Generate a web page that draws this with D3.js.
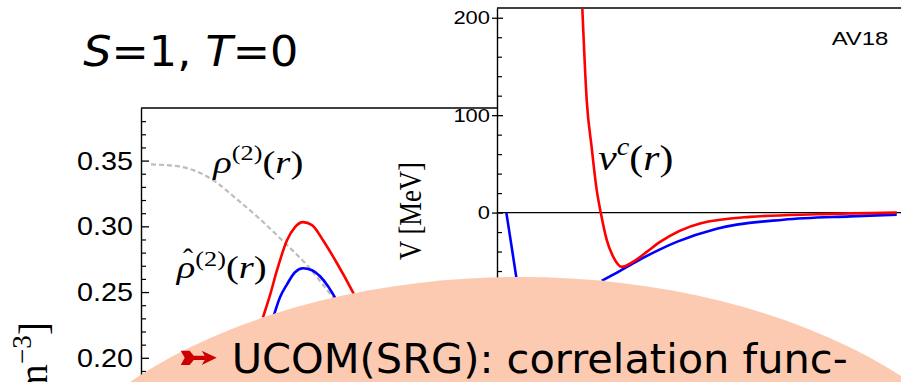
<!DOCTYPE html>
<html><head><meta charset="utf-8">
<script src="https://cdn.jsdelivr.net/npm/d3@7"></script>
<style>html,body{margin:0;padding:0;background:#fff;overflow:hidden}</style>
</head><body><svg id="c" width="901" height="382"></svg>
<script>
// ---- left panel: two-body densities (fm^-3) vs r (fm)
const rGray   = [0.0, 0.145, 0.31, 0.435, 0.545, 0.66, 0.78, 0.91, 1.045];
const rhoGray = [0.3471, 0.3454, 0.3352, 0.3199, 0.3055, 0.2887, 0.2704, 0.2460, 0.2210];
const rRed    = [0.56, 0.595, 0.63, 0.68, 0.72, 0.76, 0.805, 0.86, 0.93, 1.01, 1.085];
const rhoRed  = [0.2308, 0.2476, 0.2666, 0.2894, 0.2994, 0.3032, 0.3009, 0.2894, 0.2719, 0.2498, 0.2270];
const rBlue   = [0.61, 0.645, 0.68, 0.72, 0.76, 0.805, 0.845, 0.885, 0.925, 0.97];
const rhoBlue = [0.2300, 0.2460, 0.2559, 0.2651, 0.2681, 0.2666, 0.2620, 0.2544, 0.2445, 0.2324];
const rhoMajorTicks = [0.20, 0.25, 0.30, 0.35];
const rhoMinorTicks = [0.19, 0.21, 0.22, 0.23, 0.24, 0.26, 0.27, 0.28, 0.29, 0.31, 0.32, 0.33, 0.34, 0.36, 0.37, 0.38];

// ---- right panel: potentials (MeV) vs r (fm)
const rPotRed  = [0.64, 0.673, 0.71, 0.748, 0.778, 0.823, 0.872, 0.935, 1.02, 1.123, 1.223, 1.523, 1.898, 2.398, 2.998];
const vPotRed  = [209.5, 115, 67, 23, 0, -28, -45.5, -55.7, -50.6, -40.3, -30.1, -11.1, -4.4, -1.7, 0];
const rPotBlue = [0.07, 0.11, 0.145, null, 0.785, 0.923, 1.048, 1.223, 1.348, 1.648, 2.148, 2.648, 2.998];
const vPotBlue = [0, -35.3, -66.6, null, -70, -59.8, -50, -37.7, -30.1, -16.5, -7.3, -3.9, -2.1];
const vMajorTicks = [-100, 0, 100, 200];
const vMinorTicks = [-80, -60, -40, -20, 20, 40, 60, 80, 120, 140, 160, 180];

const svg = d3.select("#c");
const W = 901, H = 382;

const xL = d3.scaleLinear().domain([-0.05, 1.75]).range([141, 501]);
const yL = d3.scaleLinear().domain([0.18, 0.39]).range([384.1, 108]);
const xR = d3.scaleLinear().domain([0, 3]).range([497, 897]);
const yR = d3.scaleLinear().domain([-100, 210]).range([310, 8]);

const defs = svg.append("defs");
defs.append("clipPath").attr("id", "clipL").append("rect")
  .attr("x", xL.range()[0]).attr("y", yL.range()[1])
  .attr("width", xR.range()[0] - xL.range()[0]).attr("height", yL.range()[0] - yL.range()[1]);
defs.append("clipPath").attr("id", "clipR").append("rect")
  .attr("x", xR.range()[0]).attr("y", yR.range()[1])
  .attr("width", W - xR.range()[0]).attr("height", yR.range()[0] - yR.range()[1]);

const zip = (a, b) => a.map((v, i) => [v, b[i]]);

// ---------- left panel
const gL = svg.append("g");
gL.append("line").attr("x1", xL.range()[0]).attr("x2", xR.range()[0])
  .attr("y1", yL.range()[1]).attr("y2", yL.range()[1])
  .attr("stroke", "#000").attr("stroke-width", 1.4);

const axL = gL.append("g").attr("transform", `translate(${xL.range()[0]},0)`)
  .call(d3.axisLeft(yL).tickValues(rhoMajorTicks).tickSize(-8).tickSizeOuter(0).tickPadding(8)
    .tickFormat(d3.format(".2f")));
axL.select(".domain").attr("stroke-width", 1.4);
axL.selectAll(".tick line").attr("stroke-width", 1.3);
axL.selectAll("text").attr("font-family", "Liberation Sans, Arial, sans-serif")
  .attr("font-size", 26.5).attr("fill", "#000")
  .attr("textLength", 56).attr("lengthAdjust", "spacingAndGlyphs");
const axLm = gL.append("g").attr("transform", `translate(${xL.range()[0]},0)`)
  .call(d3.axisLeft(yL).tickValues(rhoMinorTicks).tickSize(-5).tickSizeOuter(0).tickFormat(""));
axLm.select(".domain").remove();
axLm.selectAll(".tick line").attr("stroke-width", 1.2);

const lineL = d3.line().x(d => xL(d[0])).y(d => yL(d[1])).curve(d3.curveMonotoneX);
const cL = gL.append("g").attr("clip-path", "url(#clipL)");
cL.append("path").attr("d", lineL(zip(rGray, rhoGray))).attr("fill", "none")
  .attr("stroke", "#bdbdbd").attr("stroke-width", 2.2).attr("stroke-dasharray", "5,3");
cL.append("path").attr("d", lineL(zip(rRed, rhoRed))).attr("fill", "none")
  .attr("stroke", "#ff0000").attr("stroke-width", 2.6);
cL.append("path").attr("d", lineL(zip(rBlue, rhoBlue))).attr("fill", "none")
  .attr("stroke", "#0000ff").attr("stroke-width", 2.6);

// ---------- right panel
const gR = svg.append("g");
gR.append("line").attr("x1", xR.range()[0]).attr("x2", W)
  .attr("y1", yR.range()[1]).attr("y2", yR.range()[1])
  .attr("stroke", "#000").attr("stroke-width", 1.4);
gR.append("line").attr("x1", xR.range()[0]).attr("x2", W)
  .attr("y1", yR(0)).attr("y2", yR(0))
  .attr("stroke", "#000").attr("stroke-width", 1.1);
const axR = gR.append("g").attr("transform", `translate(${xR.range()[0]},0)`)
  .call(d3.axisLeft(yR).tickValues(vMajorTicks).tickSize(-6).tickSizeOuter(0).tickPadding(7)
    .tickFormat(d3.format("d")));
axR.select(".domain").attr("stroke-width", 1.4);
axR.selectAll(".tick line").attr("x1", -5).attr("stroke-width", 1.3);
axR.selectAll("text").attr("font-family", "Liberation Sans, Arial, sans-serif")
  .attr("font-size", 18.6).attr("fill", "#000")
  .each(function(d) { const s = String(d).length; d3.select(this).attr("textLength", s * 12.2).attr("lengthAdjust", "spacingAndGlyphs"); });
const axRm = gR.append("g").attr("transform", `translate(${xR.range()[0]},0)`)
  .call(d3.axisLeft(yR).tickValues(vMinorTicks).tickSize(-5).tickSizeOuter(0).tickFormat(""));
axRm.select(".domain").remove();
axRm.selectAll(".tick line").attr("stroke-width", 1.2);

const lineR = d3.line().defined(d => d[0] !== null && d[1] !== null)
  .x(d => xR(d[0])).y(d => yR(d[1])).curve(d3.curveMonotoneX);
const cR = gR.append("g").attr("clip-path", "url(#clipR)");
cR.append("path").attr("d", lineR(zip(rPotBlue, vPotBlue))).attr("fill", "none")
  .attr("stroke", "#0000ff").attr("stroke-width", 2.6);
cR.append("path").attr("d", lineR(zip(rPotRed, vPotRed))).attr("fill", "none")
  .attr("stroke", "#ff0000").attr("stroke-width", 2.6);

gR.append("text").attr("x", 831.7).attr("y", 45)
  .attr("font-family", "Liberation Sans, Arial, sans-serif").attr("font-size", 18.6)
  .attr("textLength", 56.7).attr("lengthAdjust", "spacingAndGlyphs").text("AV18");

// ---------- labels
const serif = "Liberation Serif, Times New Roman, serif";
function mathLabel(x, y, fs, parts, len) {
  const t = svg.append("text").attr("x", x).attr("y", y).attr("font-family", serif)
    .attr("font-size", fs).attr("fill", "#000");
  let shift = 0;
  parts.forEach(p => {
    const sp = t.append("tspan").text(p.t);
    if (p.i) sp.attr("font-style", "italic");
    const target = p.sup ? -fs * 0.4 : 0;
    if (target !== shift) { sp.attr("dy", target - shift); shift = target; }
    if (p.sup) sp.attr("font-size", fs * 0.68);
  });
  if (len) t.attr("textLength", len).attr("lengthAdjust", "spacingAndGlyphs");
  return t;
}
mathLabel(213.3, 172.5, 31, [{t: "ρ", i: 1}, {t: "(2)", sup: 1}, {t: "("}, {t: "r", i: 1}, {t: ")"}], 90);
mathLabel(176.7, 278, 31, [{t: "ρ", i: 1}, {t: "(2)", sup: 1}, {t: "("}, {t: "r", i: 1}, {t: ")"}], 90);
svg.append("text").attr("x", 188).attr("y", 269).attr("text-anchor", "middle")
  .attr("font-family", serif).attr("font-size", 30).text("ˆ");
mathLabel(598.3, 169.5, 36, [{t: "v", i: 1}, {t: "c", i: 1, sup: 1}, {t: "("}, {t: "r", i: 1}, {t: ")"}], 75);

svg.append("text").attr("transform", "translate(421,211) rotate(-90)")
  .attr("text-anchor", "middle").attr("font-family", serif).attr("font-size", 31)
  .attr("textLength", 98).attr("lengthAdjust", "spacingAndGlyphs").text("V [MeV]");

const yl = svg.append("text").attr("transform", "translate(47,322) rotate(-90)")
  .attr("text-anchor", "end").attr("font-family", serif).attr("font-size", 40);
yl.append("tspan").text("ρ");
yl.append("tspan").text(" [fm");
yl.append("tspan").attr("dy", -16).attr("font-size", 27).text("−3");
yl.append("tspan").attr("dy", 16).text("]");

const title = svg.append("text").attr("x", 83.3).attr("y", 65.7)
  .attr("font-family", "DejaVu Sans, sans-serif").attr("font-size", 42)
  .attr("textLength", 215).attr("lengthAdjust", "spacingAndGlyphs");
title.append("tspan").attr("font-style", "italic").text("S");
title.append("tspan").text("=1, ");
title.append("tspan").attr("font-style", "italic").text("T");
title.append("tspan").text("=0");

// ---------- overlay bubble
svg.append("ellipse").attr("cx", 520).attr("cy", 587).attr("rx", 520).attr("ry", 310)
  .attr("fill", "#fccab0");
svg.append("path").attr("transform", "translate(180.7,350.7)")
  .attr("d", "M0,0 L9,0 L13,5 L24,5 L21,0 L36,7 L21,14.3 L24,9.3 L13,9.3 L9,14.3 L0,14.3 L4,7.15 Z")
  .attr("fill", "#cc0000");
svg.append("text").attr("x", 231.7).attr("y", 373.3)
  .attr("font-family", "DejaVu Sans, sans-serif").attr("font-size", 41).attr("fill", "#000")
  .attr("textLength", 616).attr("lengthAdjust", "spacingAndGlyphs")
  .text("UCOM(SRG): correlation func-");
</script></body></html>
